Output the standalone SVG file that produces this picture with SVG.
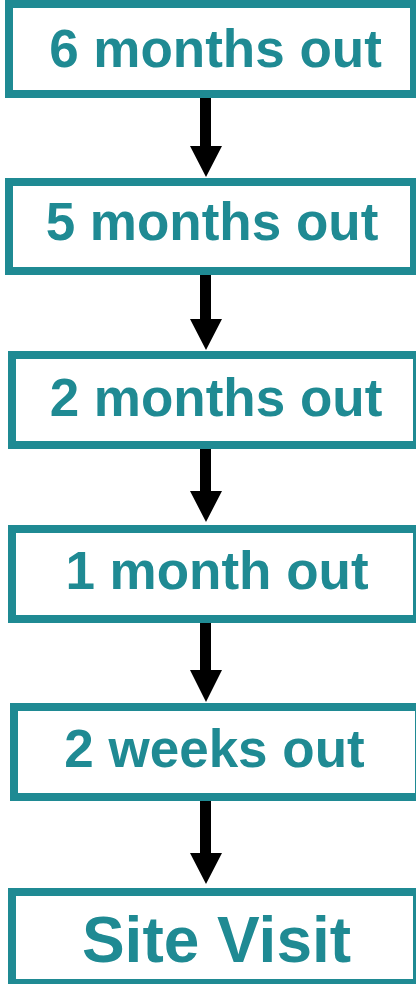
<svg xmlns="http://www.w3.org/2000/svg" width="416" height="984" viewBox="0 0 416 984">
<style>
.box{fill:#fff;stroke:#1f8a93;stroke-width:8}
.lbl{font-family:"Liberation Sans",Arial,sans-serif;font-weight:bold;fill:#1f8a93;text-anchor:middle}
.arr{fill:#000}
</style>
<rect width="416" height="984" fill="#fff"/>
<g id="node1"><rect class="box" x="9" y="4" width="405" height="90"/><text class="lbl" x="215.5" y="67" font-size="53">6 months out</text></g>
<g id="node2"><rect class="box" x="9" y="182" width="405" height="89"/><text class="lbl" x="212" y="240" font-size="53">5 months out</text></g>
<g id="node3"><rect class="box" x="12" y="355" width="405" height="90"/><text class="lbl" x="216" y="416" font-size="53">2 months out</text></g>
<g id="node4"><rect class="box" x="12" y="529" width="405" height="90"/><text class="lbl" x="217" y="589" font-size="53">1 month out</text></g>
<g id="node5"><rect class="box" x="14" y="707" width="405" height="90"/><text class="lbl" x="214.5" y="767" font-size="53">2 weeks out</text></g>
<g id="node6"><rect class="box" x="12" y="892" width="405" height="91"/><text class="lbl" x="216.5" y="962" font-size="64">Site Visit</text></g>
<g id="connectors">
<polygon class="arr" points="200,98 211,98 211,146 222,146 206,177 190,146 200,146"/>
<polygon class="arr" points="200,275 211,275 211,319 222,319 206,350 190,319 200,319"/>
<polygon class="arr" points="200,449 211,449 211,491 222,491 206,522 190,491 200,491"/>
<polygon class="arr" points="200,623 211,623 211,670 222,670 206,702 190,670 200,670"/>
<polygon class="arr" points="200,801 211,801 211,853 222,853 206,884 190,853 200,853"/>
</g>
</svg>
